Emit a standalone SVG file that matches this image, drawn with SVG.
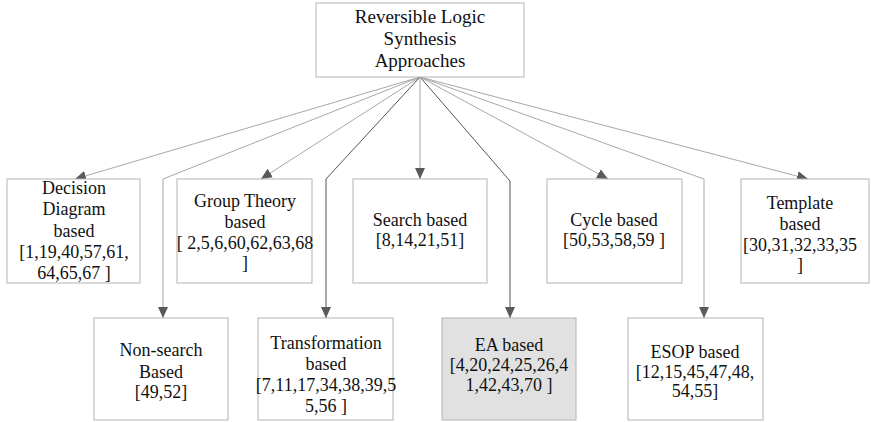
<svg xmlns="http://www.w3.org/2000/svg" width="871" height="422" viewBox="0 0 871 422">
<style>
.box{fill:#fff;stroke:#b3b3b3;stroke-width:1}
.hl{fill:#e1e1e1}
text{font-family:'Liberation Serif','Times New Roman',serif;font-size:18px;fill:#111;text-anchor:middle}
.big{font-size:19px}
.c{fill:none;stroke:#a8a8a8;stroke-width:1}
.d{stroke:#555}
</style>
<defs>
<marker id="ah" markerUnits="userSpaceOnUse" markerWidth="12" markerHeight="12" viewBox="0 0 12 12" refX="11" refY="6" orient="auto">
<path d="M0,1 L11,6 L0,11 Z" fill="#595959"/>
</marker>
</defs>
<g id="connectors">
<path class="c" d="M420,77 L75,179" marker-end="url(#ah)"/>
<path class="c" d="M420,77 L163,179 L163,318" marker-end="url(#ah)"/>
<path class="c" d="M420,77 L261,179" marker-end="url(#ah)"/>
<path class="c d" d="M420,77 L326,179 L326,318" marker-end="url(#ah)"/>
<path class="c" d="M420,77 L420,179" marker-end="url(#ah)"/>
<path class="c d" d="M420,77 L510,181 L510,318" marker-end="url(#ah)"/>
<path class="c" d="M420,77 L608,179" marker-end="url(#ah)"/>
<path class="c" d="M420,77 L704,179 L704,318" marker-end="url(#ah)"/>
<path class="c" d="M420,77 L808,179" marker-end="url(#ah)"/>
</g>
<g id="root">
<rect class="box" x="316" y="3" width="208" height="74"/>
<text class="big" x="420" y="23">Reversible Logic</text>
<text class="big" x="420" y="45">Synthesis</text>
<text class="big" x="420" y="67">Approaches</text>
</g>
<g id="decision-diagram">
<rect class="box" x="7" y="179" width="133" height="104"/>
<text x="74" y="194">Decision</text>
<text x="74" y="215">Diagram</text>
<text x="74" y="237">based</text>
<text x="74" y="258">[1,19,40,57,61,</text>
<text x="74" y="279">64,65,67 ]</text>
</g>
<g id="group-theory">
<rect class="box" x="177" y="179" width="135" height="104"/>
<text x="245" y="207">Group Theory</text>
<text x="245" y="228">based</text>
<text x="245" y="249">[ 2,5,6,60,62,63,68</text>
<text x="245" y="269">]</text>
</g>
<g id="search">
<rect class="box" x="353" y="179" width="134" height="104"/>
<text x="420" y="226">Search based</text>
<text x="420" y="246">[8,14,21,51]</text>
</g>
<g id="cycle">
<rect class="box" x="547" y="179" width="135" height="104"/>
<text x="614" y="226">Cycle based</text>
<text x="614" y="246">[50,53,58,59 ]</text>
</g>
<g id="template">
<rect class="box" x="741" y="179" width="128" height="104"/>
<text x="800" y="209">Template</text>
<text x="800" y="230">based</text>
<text x="800" y="251">[30,31,32,33,35</text>
<text x="800" y="271">]</text>
</g>
<g id="non-search">
<rect class="box" x="94" y="318" width="134" height="102"/>
<text x="161" y="356">Non-search</text>
<text x="161" y="378">Based</text>
<text x="161" y="398">[49,52]</text>
</g>
<g id="transformation">
<rect class="box" x="258" y="318" width="135" height="102"/>
<text x="326" y="349">Transformation</text>
<text x="326" y="370">based</text>
<text x="326" y="391">[7,11,17,34,38,39,5</text>
<text x="326" y="412">5,56 ]</text>
</g>
<g id="ea">
<rect class="box hl" x="442" y="318" width="134" height="102"/>
<text x="509" y="351">EA based</text>
<text x="509" y="371">[4,20,24,25,26,4</text>
<text x="509" y="391">1,42,43,70 ]</text>
</g>
<g id="esop">
<rect class="box" x="628" y="318" width="135" height="102"/>
<text x="695" y="358">ESOP based</text>
<text x="695" y="378">[12,15,45,47,48,</text>
<text x="695" y="397">54,55]</text>
</g>
</svg>
